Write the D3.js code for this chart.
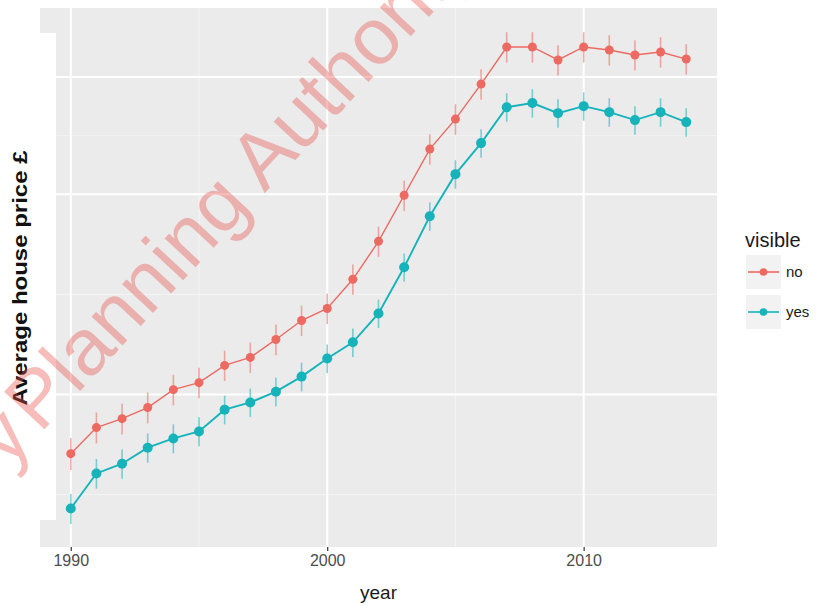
<!DOCTYPE html>
<html lang="en">
<head>
<meta charset="UTF-8">
<title>Average house price by year</title>
<script src="https://d3js.org/d3.v7.min.js"></script>
<style>
  body { margin: 0; background: #fff; }
  text { font-family: "Liberation Sans", Arial, sans-serif; }
</style>
</head>
<body>
<div id="chart"></div>
<script>
// years on the x axis
const years = d3.range(1990, 2015);

// average price (GBP) for the two groups
const noPrice = [81500, 89200, 92000, 95600, 101700, 104200, 110600, 113700, 121000, 129200,
  134700, 149000, 169900, 199300, 233800, 259400, 292800, 332900, 332900, 318300,
  332900, 329500, 323800, 327200, 319300];
const yesPrice = [67400, 76100, 78700, 83200, 85900, 88000, 94900, 97300, 101000, 106400,
  113300, 119800, 132400, 155300, 185300, 214400, 238700, 270300, 274200, 264800,
  271300, 265700, 258500, 265700, 256700];

// half-width of the error bars (GBP)
const noErr = [4500, 4800, 4900, 5100, 5400, 5500, 5800, 6000, 6400, 6800,
  7100, 7800, 8900, 10500, 12300, 13700, 15400, 17500, 17500, 16700,
  17500, 17300, 17000, 17200, 16800];
const yesErr = [3500, 3900, 4000, 4200, 4300, 4400, 4700, 4800, 5000, 5300,
  5600, 5900, 6500, 7600, 9100, 10600, 11800, 13300, 13500, 13000,
  13300, 13100, 12700, 13100, 12700];

const groups = ["no", "yes"];
const colors = {no: "#ec6a61", yes: "#16b3bb"};
const xTicks = [1990, 2000, 2010];
const xMinor = [1995, 2005];
const yTicks = [100000, 200000, 300000];
const yMinor = [70711, 141421, 244949];

const W = 816, H = 606;
const panel = {left: 40, right: 717, top: 8, bottom: 547};

const svg = d3.select("#chart").append("svg")
    .attr("width", W)
    .attr("height", H);

const x = d3.scaleLinear()
    .domain([1988.8, 2015.2])
    .range([panel.left, panel.right]);

const y = d3.scaleLog()
    .domain([59000, 381000])
    .range([panel.bottom, panel.top]);

// grey panel
svg.append("rect")
    .attr("x", panel.left).attr("y", panel.top)
    .attr("width", panel.right - panel.left)
    .attr("height", panel.bottom - panel.top)
    .attr("fill", "#ebebeb");

// minor grid
svg.append("g").selectAll("line").data(yMinor).join("line")
    .attr("x1", panel.left).attr("x2", panel.right)
    .attr("y1", d => y(d)).attr("y2", d => y(d))
    .attr("stroke", "#f4f4f4").attr("stroke-width", 1);
svg.append("g").selectAll("line").data(xMinor).join("line")
    .attr("y1", panel.top).attr("y2", panel.bottom)
    .attr("x1", d => x(d)).attr("x2", d => x(d))
    .attr("stroke", "#f4f4f4").attr("stroke-width", 1);

// major grid
svg.append("g").selectAll("line").data(yTicks).join("line")
    .attr("x1", panel.left).attr("x2", panel.right)
    .attr("y1", d => y(d)).attr("y2", d => y(d))
    .attr("stroke", "#fff").attr("stroke-width", 2);
svg.append("g").selectAll("line").data(xTicks).join("line")
    .attr("y1", panel.top).attr("y2", panel.bottom)
    .attr("x1", d => x(d)).attr("x2", d => x(d))
    .attr("stroke", "#fff").attr("stroke-width", 2);

// white box hiding the y tick labels (as in the source)
svg.append("rect")
    .attr("x", panel.left - 1).attr("y", 33)
    .attr("width", 17).attr("height", 487)
    .attr("fill", "#fff");

// x axis
const xAxis = svg.append("g")
    .attr("transform", `translate(0,${panel.bottom})`)
    .attr("font-size", 16)
    .call(d3.axisBottom(x).tickValues(xTicks).tickFormat(d3.format("d"))
        .tickSize(4).tickPadding(4));
xAxis.attr("font-size", 16).attr("font-family", "'Liberation Sans', Arial, sans-serif");
xAxis.select(".domain").remove();
xAxis.selectAll(".tick line").attr("stroke", "#333").attr("stroke-width", 1.2);
xAxis.selectAll(".tick text")
    .attr("fill", "#4d4d4d")
    .style("font-size", "16px");

// series
const series = groups.map(g => ({
  key: g,
  values: years.map((yr, i) => ({
    year: yr,
    value: g === "no" ? noPrice[i] : yesPrice[i],
    err: g === "no" ? noErr[i] : yesErr[i]
  }))
}));

const line = d3.line().x(d => x(d.year)).y(d => y(d.value));

series.forEach(s => {
  const g = svg.append("g");
  g.selectAll("line.err").data(s.values).join("line")
      .attr("class", "err")
      .attr("x1", d => x(d.year)).attr("x2", d => x(d.year))
      .attr("y1", d => y(d.value - d.err)).attr("y2", d => y(d.value + d.err))
      .attr("stroke", colors[s.key]).attr("stroke-opacity", 0.55)
      .attr("stroke-width", 1.6);
  g.append("path")
      .datum(s.values)
      .attr("fill", "none")
      .attr("stroke", colors[s.key])
      .attr("stroke-width", s.key === "no" ? 1.4 : 1.9)
      .attr("d", line);
  g.selectAll("circle").data(s.values).join("circle")
      .attr("cx", d => x(d.year)).attr("cy", d => y(d.value))
      .attr("r", s.key === "no" ? 4.5 : 5)
      .attr("fill", colors[s.key]);
});

// axis titles
svg.append("text")
    .attr("x", (panel.left + panel.right) / 2).attr("y", 599)
    .attr("text-anchor", "middle")
    .attr("fill", "#1a1a1a")
    .style("font-size", "19px")
    .text("year");

svg.append("text")
    .attr("transform", "translate(27,278) rotate(-90)")
    .attr("text-anchor", "middle")
    .attr("font-weight", "bold")
    .attr("fill", "#111")
    .attr("textLength", 255)
    .attr("lengthAdjust", "spacingAndGlyphs")
    .style("font-size", "20px")
    .text("Average house price £");

// legend
const legend = svg.append("g").attr("transform", "translate(745,0)");
legend.append("text")
    .attr("x", 0).attr("y", 247)
    .attr("fill", "#1a1a1a")
    .style("font-size", "20px")
    .text("visible");
const keys = legend.selectAll("g.key").data(groups).join("g")
    .attr("class", "key")
    .attr("transform", (d, i) => `translate(0,${272 + i * 40})`);
keys.append("rect")
    .attr("x", 1).attr("y", -17).attr("width", 35).attr("height", 34)
    .attr("fill", "#f2f2f2");
keys.append("line")
    .attr("x1", 3).attr("x2", 34)
    .attr("stroke", d => colors[d]).attr("stroke-width", 1.6);
keys.append("circle")
    .attr("cx", 18.5).attr("r", 3.8)
    .attr("fill", d => colors[d]);
keys.append("text")
    .attr("x", 41).attr("y", 5)
    .attr("fill", "#1a1a1a")
    .style("font-size", "15px")
    .text(d => d);

// watermark over the chart
const mark = svg.append("g")
    .attr("transform", "translate(40,434) rotate(-47)")
    .attr("fill", "#e8514c")
    .attr("fill-opacity", 0.38)
    .style("font-size", "80px");
mark.append("text")
    .attr("x", 0)
    .text("Planning Authority");
mark.append("text")
    .attr("x", -8)
    .attr("text-anchor", "end")
    .text("by");
</script>
</body>
</html>
